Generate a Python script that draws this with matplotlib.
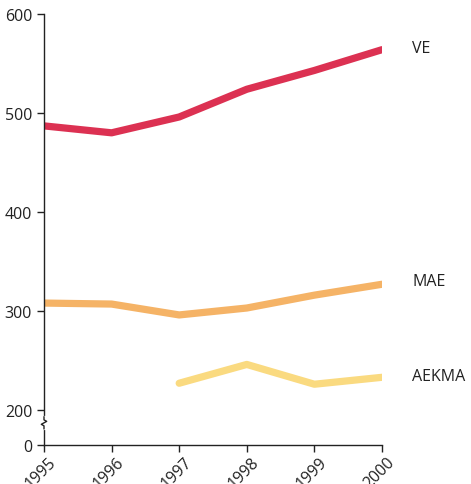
import matplotlib
matplotlib.use("Agg")
import matplotlib.pyplot as plt
import matplotlib.transforms as mtransforms
import numpy as np

plt.rcParams['font.family'] = ['Open Sans', 'DejaVu Sans']

years = [1995, 1996, 1997, 1998, 1999, 2000]
ve = [487, 480, 496, 524, 543, 564]
mae = [308, 307, 296, 303, 316, 327]
aekma_years = [1997, 1998, 1999, 2000]
aekma = [227, 246, 226, 233]
series_labels = ['VE', 'MAE', 'AEKMA']
ytick_values = [0, 200, 300, 400, 500, 600]

ZERO_POS = 164.6  # compressed position of 0 on the broken axis

fig = plt.figure(figsize=(4.71, 4.85), dpi=100)
ax = fig.add_axes([0.0934, 0.0804, 0.811 - 0.0934, 0.969 - 0.0804])

c_ve = '#DC3152'
c_mae = '#F5B366'
c_aek = '#FADA80'
lw = 5.2
ax.plot(years, ve, color=c_ve, lw=lw, solid_capstyle='round', solid_joinstyle='round')
ax.plot(years, mae, color=c_mae, lw=lw, solid_capstyle='round', solid_joinstyle='round')
ax.plot(aekma_years, aekma, color=c_aek, lw=lw, solid_capstyle='round', solid_joinstyle='round')

ax.set_xlim(1995, 2000)
ax.set_ylim(ZERO_POS, 600)

pos = [ZERO_POS if v == 0 else v for v in ytick_values]
ax.set_yticks(pos)
ax.set_yticklabels([str(v) for v in ytick_values])
ax.set_xticks(years)
ax.set_xticklabels([str(y) for y in years], rotation=45, ha='right', va='center',
                   rotation_mode='anchor')

for s in ['top', 'right']:
    ax.spines[s].set_visible(False)
for s in ['left', 'bottom']:
    ax.spines[s].set_color('#222222')
    ax.spines[s].set_linewidth(1.0)
ax.tick_params(axis='both', direction='out', length=5, width=1, color='#222222',
               labelsize=11.5, labelcolor='#222222')
ax.tick_params(axis='x', pad=5.0)

offset = mtransforms.ScaledTranslation(10 / 100, 0, fig.dpi_scale_trans)
for lab in ax.get_xticklabels():
    lab.set_transform(lab.get_transform() + offset)

# break mark on y axis
trans = mtransforms.blended_transform_factory(ax.transAxes, ax.transData)
yb = 187
ax.plot([0, 0], [yb - 5, yb + 5], transform=trans, color='white', lw=3, clip_on=False, zorder=5)
zz_x = np.array([0, 0, 0.008, -0.008, 0, 0])
zz_y = np.array([yb + 6, yb + 3, yb + 1.5, yb - 1.5, yb - 3, yb - 6])
ax.plot(zz_x, zz_y, transform=trans, color='#222222', lw=1, clip_on=False, zorder=6)

# series labels
for lab, yv in zip(series_labels, [ve[-1] + 2, mae[-1] + 3, aekma[-1] + 1]):
    ax.text(2000.45, yv, lab, fontsize=11.5, color='#222222', va='center', ha='left',
            clip_on=False)

fig.savefig('out.png', dpi=100)
